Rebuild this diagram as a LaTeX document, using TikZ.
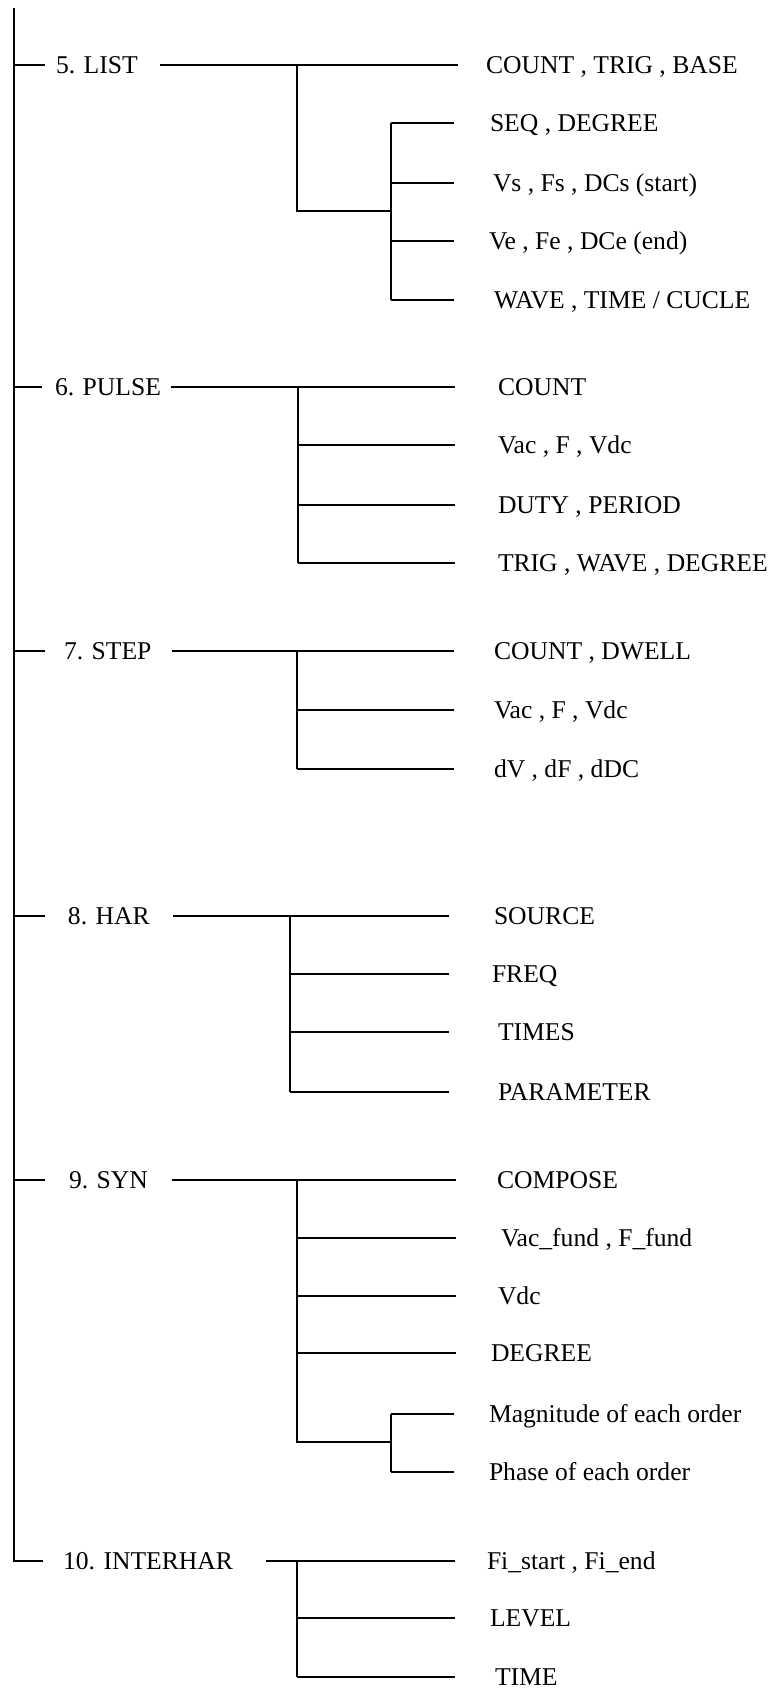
\documentclass[tikz,border=0pt]{standalone}
\usepackage{fontspec}
\setmainfont{Liberation Serif}
\usetikzlibrary{calc, positioning}

\begin{document}
\begin{tikzpicture}[
    x=0.5pt, y=-0.5pt,
    line width=1pt,
    lbl/.style={anchor=base west, inner sep=0pt, font=\fontsize{12.8}{14}\selectfont},
]
    \useasboundingbox (0,0) rectangle (771,1688);

    % Trunk
    \coordinate (top) at (14,8);
    \coordinate (bot) at (14,1561);
    \coordinate (botL) at (43,1561);
    \draw (top) -- (bot) -- (botL);

    % 5. LIST
    \coordinate (listL) at (45,65);
    \coordinate (listS) at (160,65);
    \coordinate (listB) at (297,65);
    \coordinate (listE) at (458,65);
    \node[lbl] (list) at (55,73.5) {5. LIST};
    \node[lbl] (list0) at (485,73.5) {COUNT , TRIG , BASE};
    \draw (listL -| top) -- (listL);
    \draw (listS) -- (listE);
    \coordinate (listJ) at (391,211);
    \draw (listB) -- (listB |- listJ) -- (listJ);
    \foreach \y/\x/\t [count=\i] in {123/489/{SEQ , DEGREE}, 183/492/{Vs , Fs , DCs (start)},
        241/488/{Ve , Fe , DCe (end)}, 300/493/{WAVE , TIME / CUCLE}} {
        \coordinate (listE\i) at (454,\y);
        \node[lbl] (list\i) at (\x,\y+8.5) {\t};
        \draw (listJ |- listE\i) -- (listE\i);
    }
    \draw (listJ |- listE1) -- (listJ |- listE4);

    % 6. PULSE
    \coordinate (pulseL) at (42,387);
    \coordinate (pulseS) at (171,387);
    \coordinate (pulseB) at (298,387);
    \node[lbl] (pulse) at (54,395.5) {6. PULSE};
    \draw (pulseL -| top) -- (pulseL);
    \foreach \y/\t [count=\i] in {387/COUNT, 445/{Vac , F , Vdc}, 505/{DUTY , PERIOD},
        563/{TRIG , WAVE , DEGREE}} {
        \coordinate (pulseE\i) at (455,\y);
        \node[lbl] (pulse\i) at (497,\y+8.5) {\t};
        \draw (pulseB |- pulseE\i) -- (pulseE\i);
    }
    \draw (pulseS) -- (pulseB) -- (pulseB |- pulseE4);

    % 7. STEP
    \coordinate (stepL) at (45,651);
    \coordinate (stepS) at (172,651);
    \coordinate (stepB) at (297,651);
    \node[lbl] (step7) at (63,659.5) {7. STEP};
    \draw (stepL -| top) -- (stepL);
    \foreach \y/\t [count=\i] in {651/{COUNT , DWELL}, 710/{Vac , F , Vdc}, 769/{dV , dF , dDC}} {
        \coordinate (stepE\i) at (454,\y);
        \node[lbl] (step\i) at (493,\y+8.5) {\t};
        \draw (stepB |- stepE\i) -- (stepE\i);
    }
    \draw (stepS) -- (stepB) -- (stepB |- stepE3);

    % 8. HAR
    \coordinate (harL) at (45,916);
    \coordinate (harS) at (173,916);
    \coordinate (harB) at (290,916);
    \node[lbl] (har) at (67,924.5) {8. HAR};
    \draw (harL -| top) -- (harL);
    \foreach \y/\x/\t [count=\i] in {916/493/SOURCE, 974/491/FREQ, 1032/497/TIMES, 1092/497/PARAMETER} {
        \coordinate (harE\i) at (449,\y);
        \node[lbl] (har\i) at (\x,\y+8.5) {\t};
        \draw (harB |- harE\i) -- (harE\i);
    }
    \draw (harS) -- (harB) -- (harB |- harE4);

    % 9. SYN
    \coordinate (synL) at (45,1180);
    \coordinate (synS) at (172,1180);
    \coordinate (synB) at (297,1180);
    \node[lbl] (syn) at (68,1188.5) {9. SYN};
    \draw (synL -| top) -- (synL);
    \foreach \y/\x/\t [count=\i] in {1180/496/COMPOSE, 1238/500/{Vac\_fund , F\_fund}, 1296/497/Vdc,
        1353/490/DEGREE} {
        \coordinate (synE\i) at (456,\y);
        \node[lbl] (syn\i) at (\x,\y+8.5) {\t};
        \draw (synB |- synE\i) -- (synE\i);
    }
    \coordinate (synJ) at (391,1442);
    \draw (synS) -- (synB) -- (synB |- synJ) -- (synJ);
    \foreach \y/\t [count=\i] in {1414/Magnitude of each order, 1472/Phase of each order} {
        \coordinate (synF\i) at (454,\y);
        \node[lbl] (synsub\i) at (488,\y+8.5) {\t};
        \draw (synJ |- synF\i) -- (synF\i);
    }
    \draw (synJ |- synF1) -- (synJ |- synF2);

    % 10. INTERHAR
    \coordinate (ihS) at (266,1561);
    \coordinate (ihB) at (297,1561);
    \node[lbl] (ih) at (62,1569.5) {10. INTERHAR};
    \foreach \y/\x/\t [count=\i] in {1561/486/{Fi\_start , Fi\_end}, 1618/489/LEVEL, 1677/494/TIME} {
        \coordinate (ihE\i) at (455,\y);
        \node[lbl] (ih\i) at (\x,\y+8.5) {\t};
        \draw (ihB |- ihE\i) -- (ihE\i);
    }
    \draw (ihS) -- (ihB) -- (ihB |- ihE3);

\end{tikzpicture}
\end{document}
